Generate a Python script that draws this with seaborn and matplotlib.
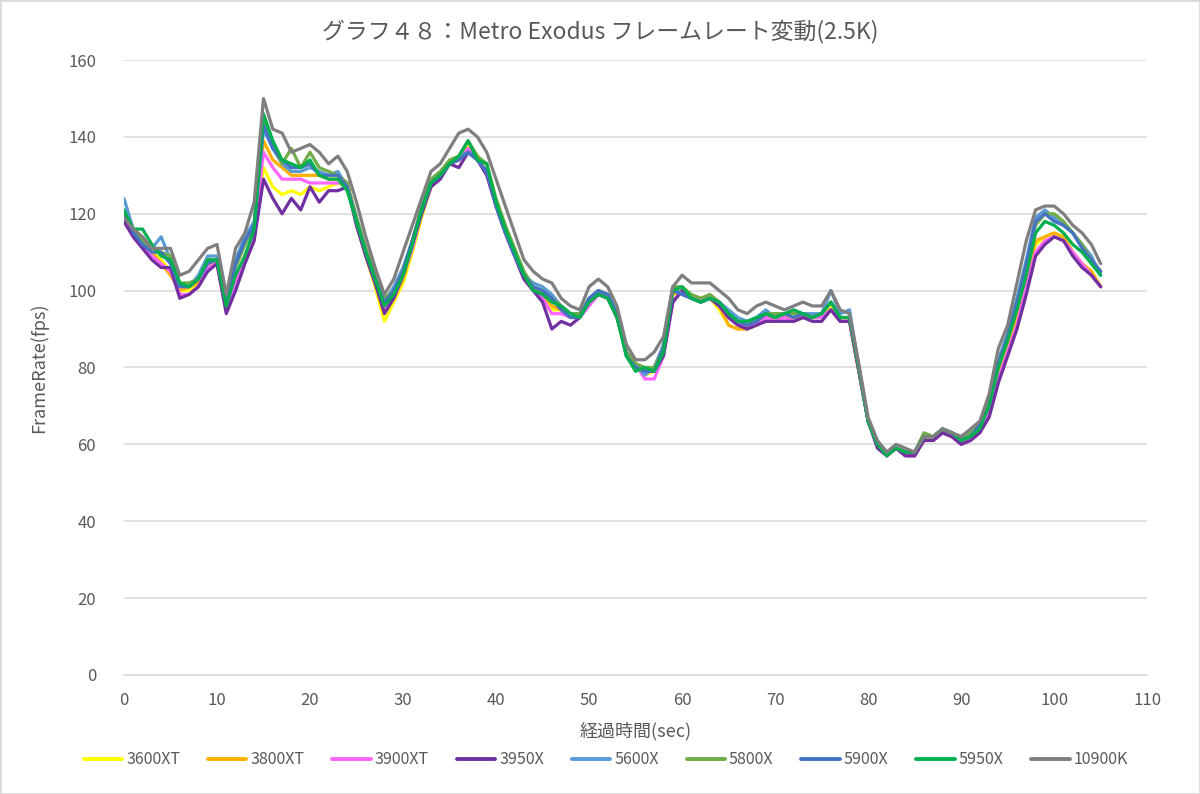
import numpy as np
import pandas as pd
import seaborn as sns
import matplotlib.pyplot as plt
from matplotlib.patches import Rectangle

# 経過時間 (sec)
time_sec = list(range(0, 106))

cpu_names = ["3600XT", "3800XT", "3900XT", "3950X", "5600X", "5800X", "5900X", "5950X", "10900K"]
cpu_colors = ["#FFFF00", "#FFB000", "#FF66FF", "#7030A0", "#5B9BD5", "#70AD47", "#4472C4", "#00B050", "#7F7F7F"]

fps_3600xt = [119, 115, 112, 110, 108, 105, 100, 100, 102, 106, 108, 95, 103, 109, 115, 132, 127, 125, 126, 125,
              127, 126, 127, 128, 127, 117, 109, 101, 92, 97, 102, 110, 119, 127, 130, 133, 134, 138, 135, 131,
              123, 116, 110, 104, 101, 99, 95, 95, 93, 94, 96, 100, 99, 93, 84, 81, 78, 79, 84, 99,
              100, 98, 98, 98, 95, 91, 90, 91, 91, 93, 93, 93, 92, 93, 93, 93, 96, 92, 92, 79,
              66, 60, 57, 59, 58, 57, 61, 62, 63, 62, 61, 62, 64, 69, 79, 85, 93, 103, 112, 114,
              115, 114, 110, 107, 105, 101]
fps_3800xt = [119, 115, 112, 110, 107, 104, 100, 101, 102, 106, 107, 95, 103, 109, 115, 139, 134, 132, 130, 130,
              130, 130, 129, 129, 128, 118, 109, 102, 95, 98, 103, 111, 120, 127, 130, 133, 134, 137, 134, 131,
              123, 116, 110, 104, 101, 99, 96, 95, 93, 93, 97, 99, 99, 93, 84, 81, 79, 80, 85, 99,
              100, 98, 98, 98, 96, 91, 90, 90, 91, 93, 93, 93, 93, 93, 93, 93, 95, 92, 92, 79,
              66, 60, 57, 59, 58, 57, 62, 62, 63, 62, 61, 62, 64, 69, 79, 86, 93, 103, 113, 114,
              115, 114, 110, 107, 105, 101]
fps_3900xt = [118, 114, 111, 109, 107, 105, 99, 99, 101, 106, 107, 95, 102, 109, 115, 136, 132, 129, 129, 129,
              128, 128, 128, 128, 128, 117, 109, 102, 95, 98, 104, 111, 120, 127, 130, 133, 134, 137, 134, 131,
              122, 115, 109, 103, 100, 98, 94, 94, 93, 93, 96, 99, 99, 93, 84, 81, 77, 77, 83, 97,
              100, 98, 98, 98, 96, 93, 91, 91, 91, 93, 92, 93, 92, 93, 93, 93, 95, 92, 92, 79,
              66, 60, 57, 59, 57, 57, 61, 61, 63, 62, 60, 61, 63, 68, 77, 84, 91, 101, 110, 113,
              114, 113, 110, 107, 104, 101]
fps_3950x = [118, 114, 111, 108, 106, 106, 98, 99, 101, 105, 107, 94, 100, 107, 113, 129, 124, 120, 124, 121,
             127, 123, 126, 126, 127, 117, 109, 102, 94, 98, 104, 112, 120, 127, 129, 133, 132, 136, 134, 130,
             122, 115, 109, 103, 100, 97, 90, 92, 91, 93, 97, 99, 98, 93, 84, 81, 79, 79, 83, 97,
             100, 98, 97, 98, 96, 93, 91, 90, 91, 92, 92, 92, 92, 93, 92, 92, 95, 92, 92, 79,
             66, 59, 57, 59, 57, 57, 61, 61, 63, 62, 60, 61, 63, 67, 76, 83, 90, 99, 109, 112,
             114, 113, 109, 106, 104, 101]
fps_5600x = [124, 116, 112, 111, 114, 108, 102, 101, 104, 109, 109, 97, 108, 114, 118, 142, 137, 133, 131, 131,
             132, 131, 130, 131, 127, 119, 111, 104, 97, 101, 106, 113, 121, 128, 130, 133, 135, 136, 134, 131,
             123, 116, 110, 104, 102, 101, 99, 96, 94, 94, 98, 100, 99, 94, 84, 81, 78, 80, 86, 101,
             99, 98, 97, 98, 97, 95, 93, 92, 93, 95, 93, 94, 94, 94, 94, 94, 100, 94, 95, 80,
             66, 60, 58, 59, 58, 58, 62, 62, 64, 63, 61, 63, 65, 71, 82, 89, 98, 108, 119, 121,
             119, 117, 115, 112, 109, 104]
fps_5800x = [120, 116, 113, 111, 110, 109, 102, 102, 103, 108, 108, 97, 106, 112, 117, 144, 138, 133, 137, 132,
             136, 132, 131, 130, 128, 119, 111, 104, 98, 100, 105, 113, 122, 129, 131, 134, 135, 139, 135, 133,
             124, 117, 111, 105, 101, 100, 98, 96, 94, 94, 98, 100, 99, 94, 84, 81, 80, 80, 85, 101,
             101, 99, 98, 99, 97, 94, 92, 92, 92, 94, 94, 94, 94, 94, 93, 94, 97, 93, 93, 80,
             66, 60, 58, 59, 58, 58, 63, 62, 64, 63, 62, 63, 65, 71, 81, 88, 97, 107, 117, 120,
             120, 118, 115, 112, 108, 105]
fps_5900x = [121, 115, 112, 110, 110, 107, 101, 101, 103, 107, 108, 96, 107, 113, 117, 143, 137, 134, 132, 132,
             133, 130, 130, 130, 127, 118, 110, 103, 97, 100, 105, 113, 121, 128, 130, 133, 134, 136, 134, 131,
             122, 115, 109, 104, 101, 100, 98, 95, 93, 93, 98, 100, 99, 94, 83, 80, 79, 79, 85, 100,
             99, 98, 97, 98, 97, 94, 92, 91, 92, 94, 93, 94, 93, 94, 93, 94, 97, 93, 93, 80,
             66, 60, 58, 59, 58, 58, 62, 62, 64, 63, 61, 62, 65, 70, 81, 88, 97, 107, 118, 120,
             118, 117, 115, 111, 108, 105]
fps_5950x = [121, 116, 116, 112, 109, 108, 102, 101, 103, 108, 108, 96, 104, 109, 116, 146, 139, 134, 133, 132,
             134, 130, 129, 129, 126, 118, 110, 103, 96, 99, 104, 112, 121, 128, 130, 133, 135, 139, 134, 133,
             123, 116, 110, 104, 100, 99, 97, 96, 94, 93, 97, 99, 98, 93, 83, 79, 80, 79, 84, 100,
             101, 98, 97, 98, 97, 94, 92, 92, 93, 94, 93, 94, 95, 94, 93, 94, 97, 93, 93, 80,
             66, 60, 57, 59, 58, 58, 62, 62, 64, 63, 61, 62, 64, 70, 80, 87, 95, 104, 115, 118,
             117, 115, 112, 110, 107, 104]
fps_10900k = [119, 116, 114, 111, 111, 111, 104, 105, 108, 111, 112, 99, 111, 115, 123, 150, 142, 141, 136, 137,
              138, 136, 133, 135, 131, 123, 114, 106, 99, 103, 110, 117, 124, 131, 133, 137, 141, 142, 140, 136,
              129, 122, 115, 108, 105, 103, 102, 98, 96, 95, 101, 103, 101, 96, 86, 82, 82, 84, 88, 101,
              104, 102, 102, 102, 100, 98, 95, 94, 96, 97, 96, 95, 96, 97, 96, 96, 100, 95, 94, 81,
              67, 61, 58, 60, 59, 58, 62, 62, 64, 63, 62, 64, 66, 73, 85, 91, 102, 113, 121, 122,
              122, 120, 117, 115, 112, 107]

all_fps = [fps_3600xt, fps_3800xt, fps_3900xt, fps_3950x, fps_5600x,
           fps_5800x, fps_5900x, fps_5950x, fps_10900k]

rows = []
for name, vals in zip(cpu_names, all_fps):
    for t, v in zip(time_sec, vals):
        rows.append({"time": t, "fps": v, "cpu": name})
tabela = pd.DataFrame(rows)

sns.set_style("white")
plt.rcParams['font.family'] = ['Noto Sans CJK JP', 'DejaVu Sans']

text_color = "#595959"
grid_color = "#D9D9D9"

fig = plt.figure(figsize=(12, 7.94), dpi=100)
ax = fig.add_axes([0.1033, 0.150, 0.8527, 0.7744])

sns.lineplot(data=tabela, x="time", y="fps", hue="cpu", hue_order=cpu_names,
             palette=cpu_colors, linewidth=2.3, ax=ax, legend=False)

ax.set_xlim(0, 110)
ax.set_ylim(0, 160)
ax.set_xticks(range(0, 111, 10))
ax.set_yticks(range(0, 161, 20))
ax.yaxis.grid(True, color=grid_color, linewidth=1.1)
ax.xaxis.grid(False)
for side in ["top", "right", "left"]:
    ax.spines[side].set_visible(False)
ax.spines["bottom"].set_color(grid_color)
ax.spines["bottom"].set_linewidth(1.1)
ax.tick_params(axis="both", length=0, labelsize=12, colors=text_color, pad=12)
ax.tick_params(axis="y", pad=20)

ax.set_xlabel("経過時間(sec)", fontsize=13, color=text_color, labelpad=10)
ax.set_ylabel("FrameRate(fps)", fontsize=13, color=text_color, labelpad=14)
fig.suptitle("グラフ４８：Metro Exodus フレームレート変動(2.5K)", fontsize=16.5,
             color=text_color, y=0.975)

handles = [plt.Line2D([0], [0], color=c, linewidth=2.8) for c in cpu_colors]
fig.legend(handles, cpu_names, loc="center", bbox_to_anchor=(0.505, 0.043), ncol=9,
           frameon=False, fontsize=11.5, handlelength=2.4, columnspacing=1.75,
           handletextpad=0.25, labelcolor=text_color)

fig.patches.append(Rectangle((0, 0), 1, 1, transform=fig.transFigure, fill=False,
                             edgecolor=grid_color, linewidth=2))

plt.savefig("out.png", format='png', dpi=100)
plt.close()
